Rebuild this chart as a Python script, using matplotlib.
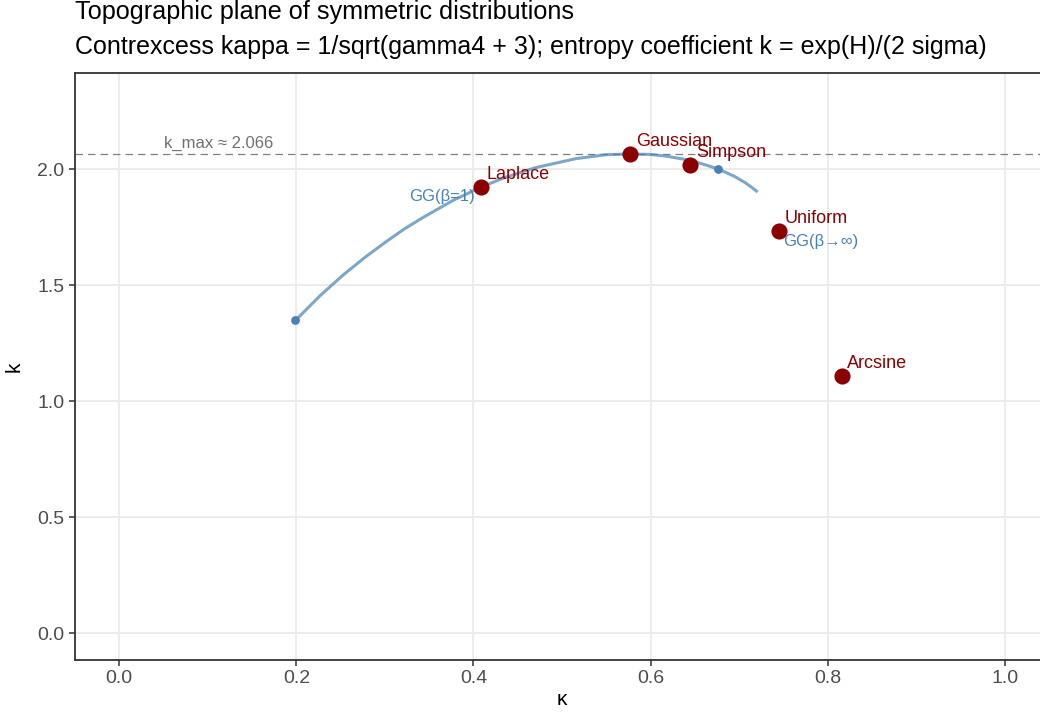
import matplotlib
matplotlib.use("Agg")
import matplotlib.pyplot as plt

plt.rcParams['font.family'] = ['Liberation Sans', 'DejaVu Sans']

# named distributions: contrexcess kappa and entropy coefficient k
dist_names = ['Laplace', 'Gaussian', 'Simpson', 'Uniform', 'Arcsine']
dist_kappa = [0.408, 0.577, 0.645, 0.745, 0.816]
dist_k = [1.922, 2.066, 2.019, 1.732, 1.110]

# generalized Gaussian family
gg_kappa = [0.199, 0.227, 0.253, 0.278, 0.301, 0.322, 0.342, 0.377,
            0.408, 0.435, 0.470, 0.516, 0.550, 0.577, 0.599, 0.617,
            0.643, 0.662, 0.676, 0.695, 0.707, 0.715, 0.721]
gg_k = [1.349, 1.456, 1.545, 1.622, 1.687, 1.743, 1.790, 1.866,
        1.922, 1.964, 2.007, 2.046, 2.063, 2.066, 2.064, 2.057,
        2.040, 2.019, 2.002, 1.969, 1.942, 1.920, 1.902]

# highlighted GG points
gg_mark_kappa = [0.199, 0.676]
gg_mark_k = [1.349, 2.002]

k_max = 2.066

x_ticks = [0.0, 0.2, 0.4, 0.6, 0.8, 1.0]
y_ticks = [0.0, 0.5, 1.0, 1.5, 2.0]

RED = '#8B0000'
BLUE = '#4682B4'

fig = plt.figure(figsize=(10.4, 7.15), dpi=100)
ax = fig.add_axes([75 / 1040, 1 - 660 / 715, 974 / 1040, 587 / 715])

ax.set_xlim(-0.05, 1.05)
ax.set_ylim(-0.115, 2.415)
ax.set_xticks(x_ticks)
ax.set_yticks(y_ticks)
ax.set_xticklabels([f'{v:.1f}' for v in x_ticks])
ax.set_yticklabels([f'{v:.1f}' for v in y_ticks])
ax.grid(True, color='#EBEBEB', linewidth=1.3)
ax.set_axisbelow(True)
for s in ax.spines.values():
    s.set_color('#333333')
    s.set_linewidth(1.3)
ax.tick_params(colors='#333333', labelcolor='#4D4D4D', labelsize=14,
               length=4, width=1.1)

ax.axhline(k_max, color='#808080', linestyle=(0, (6, 4)), linewidth=0.9)
ax.text(0.112, k_max + 0.012, f'k_max \u2248 {k_max:.3f}', color='#707070',
        fontsize=12, ha='center', va='bottom')

ax.plot(gg_kappa, gg_k, color=BLUE, alpha=0.7, linewidth=2.2,
        solid_capstyle='butt', solid_joinstyle='round')
ax.scatter(gg_mark_kappa, gg_mark_k, s=40, color=BLUE, zorder=3,
           linewidths=0)

ax.scatter(dist_kappa, dist_k, s=135, color=RED, zorder=4, linewidths=0)
for name, x, y in zip(dist_names, dist_kappa, dist_k):
    ax.annotate(name, (x, y), xytext=(4, 3), textcoords='offset points',
                color=RED, fontsize=13, ha='left', va='bottom', zorder=5)

ax.annotate('GG(\u03b2=1)', (dist_kappa[0], dist_k[0]), xytext=(-4, -1),
            textcoords='offset points', color=BLUE, fontsize=12,
            ha='right', va='top', zorder=5)
ax.annotate('GG(\u03b2\u2192\u221e)', (dist_kappa[3], dist_k[3]),
            xytext=(3, -1.5), textcoords='offset points', color=BLUE,
            fontsize=12, ha='left', va='top', zorder=5)

ax.set_xlabel('\u03ba', fontsize=15, labelpad=2)
ax.set_ylabel('k', fontsize=15, labelpad=10)

fig.text(75 / 1040, 1 - 12 / 715, 'Topographic plane of symmetric distributions',
         fontsize=18.2, ha='left', va='center')
fig.text(75 / 1040, 1 - 47 / 715,
         'Contrexcess kappa = 1/sqrt(gamma4 + 3); entropy coefficient k = exp(H)/(2 sigma)',
         fontsize=18, ha='left', va='center')

fig.savefig('out.png', dpi=100)
